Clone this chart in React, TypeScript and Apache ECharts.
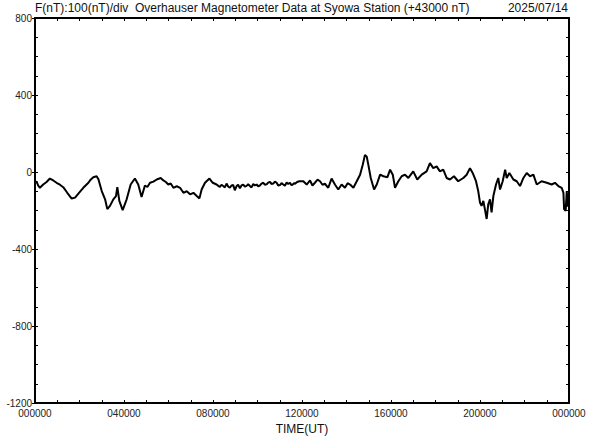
import React, { useEffect, useRef } from "react";
import * as echarts from "echarts";

const hours = [
  0.0, 0.07, 0.14, 0.22, 0.37, 0.52, 0.67, 0.82, 0.97, 1.12, 1.27, 1.45, 1.65, 1.8, 1.95, 2.17, 2.4, 2.5, 2.62, 2.77, 2.85, 3.0, 3.15, 3.25, 3.37, 3.52, 3.64, 3.7, 3.79, 3.94,
  4.12, 4.3, 4.49, 4.64, 4.79, 4.94, 5.05, 5.17, 5.32, 5.47, 5.65, 5.77, 5.88, 5.99, 6.1, 6.22, 6.37, 6.52, 6.67, 6.82, 6.97, 7.12, 7.27, 7.39, 7.49, 7.64, 7.84, 7.99,
  8.16, 8.24, 8.31, 8.38, 8.46, 8.53, 8.61, 8.68, 8.76, 8.83, 8.91, 8.98, 9.06, 9.13, 9.21, 9.28, 9.36, 9.43, 9.51, 9.58, 9.66, 9.73, 9.81, 9.88, 9.96,
  10.03, 10.11, 10.18, 10.26, 10.33, 10.41, 10.48, 10.56, 10.63, 10.71, 10.78, 10.86, 10.93, 11.01, 11.08, 11.16, 11.23, 11.31, 11.38, 11.46, 11.52, 11.58, 11.64, 11.69, 11.78, 11.88,
  12.06, 12.21, 12.36, 12.47, 12.58, 12.7, 12.81, 12.92, 13.03, 13.18, 13.33, 13.48, 13.63, 13.78, 13.93, 14.05, 14.16, 14.31, 14.46, 14.61, 14.73, 14.83, 14.91, 14.98,
  15.09, 15.24, 15.36, 15.51, 15.66, 15.84, 15.96, 16.08, 16.18, 16.33, 16.48, 16.63, 16.78, 17.0, 17.18, 17.38, 17.6, 17.75, 17.9, 18.05, 18.2, 18.35,
  18.5, 18.65, 18.83, 19.02, 19.25, 19.4, 19.55, 19.67, 19.82, 19.92, 20.0, 20.07, 20.15, 20.22, 20.3, 20.37, 20.45, 20.52, 20.6, 20.72, 20.82, 20.9,
  21.02, 21.13, 21.2, 21.32, 21.5, 21.65, 21.8, 21.95, 22.1, 22.25, 22.4, 22.55, 22.77, 23.0, 23.22, 23.37, 23.52, 23.67, 23.75, 23.78, 23.85, 23.9, 23.93, 24.0,
];

const values = [
  -60, -48, -70, -82, -65, -52, -34, -44, -56, -66, -79, -108, -138, -133, -112, -82, -56, -40, -27, -22, -38, -99, -142, -193, -176, -142, -125, -79, -150, -198,
  -142, -65, -34, -65, -130, -70, -78, -56, -50, -39, -31, -44, -52, -65, -60, -82, -74, -82, -108, -100, -116, -108, -125, -137, -91, -56, -34, -56,
  -65, -72, -78, -66, -73, -80, -60, -75, -82, -70, -68, -95, -73, -66, -85, -70, -65, -76, -72, -64, -73, -80, -62, -70, -65,
  -74, -70, -60, -56, -66, -64, -55, -51, -62, -60, -50, -56, -70, -68, -58, -65, -72, -55, -62, -56, -68, -66, -58, -61, -52, -48,
  -48, -65, -44, -70, -56, -40, -48, -66, -61, -82, -34, -65, -91, -65, -82, -58, -65, -82, -48, -14, 38, 89, 80, 38,
  -31, -91, -65, -14, -22, -27, 12, -14, -82, -48, -22, -14, -31, 3, -39, -14, 3, 46, 20, 29, 3, 12,
  -31, -39, -22, -48, -31, -14, 20, -5, -48, -99, -159, -176, -150, -193, -244, -168, -142, -210, -125, -65, -31, -91,
  -48, 12, -31, -5, -39, -48, -73, -31, -5, -22, -14, -65, -48, -56, -65, -56, -73, -82, -108, -193, -202, -99, -180, -110,
];

const yTicks = ["800", "400", "0", "-400", "-800", "-1200"];
const xLabels = ["000000", "040000", "080000", "120000", "160000", "200000", "000000"];
const title = "F(nT):100(nT)/div  Overhauser Magnetometer Data at Syowa Station (+43000 nT)";
const dateText = "2025/07/14";

export default function App() {
  const ref = useRef<HTMLDivElement>(null);
  useEffect(() => {
    if (!ref.current) return;
    const chart = echarts.init(ref.current, null, { renderer: "svg" });
    const font = "'Liberation Sans', Arial, sans-serif";
    const tickStyle = { color: "#000", width: 1 };
    const baseX = {
      type: "value" as const,
      min: 0,
      max: 24,
      interval: 4,
      splitLine: { show: false },
      axisLine: { show: true, onZero: false, lineStyle: { color: "#000", width: 2 } },
      axisTick: { show: true, inside: true, length: 3, lineStyle: tickStyle },
      minorTick: { show: true, splitNumber: 4, length: 3, lineStyle: tickStyle },
    };
    const baseY = {
      type: "value" as const,
      min: -1200,
      max: 800,
      interval: 400,
      splitLine: { show: false },
      axisLine: { show: true, onZero: false, lineStyle: { color: "#000", width: 2 } },
      axisTick: { show: true, inside: true, length: 3, lineStyle: tickStyle },
      minorTick: { show: true, splitNumber: 4, length: 3, lineStyle: tickStyle },
    };
    chart.setOption({
      animation: false,
      backgroundColor: "#fff",
      grid: { left: 35, right: 23, top: 18, bottom: 32 },
      xAxis: [
        {
          ...baseX,
          position: "bottom",
          name: "TIME(UT)",
          nameLocation: "middle",
          nameGap: 20,
          nameTextStyle: { color: "#111", fontSize: 12, fontFamily: font },
          axisLabel: {
            color: "#222",
            fontSize: 10,
            fontFamily: font,
            margin: 5,
            formatter: (v: number) => xLabels[Math.round(v / 4)] ?? "",
          },
        },
        { ...baseX, position: "top", axisLabel: { show: false } },
      ],
      yAxis: [
        {
          ...baseY,
          position: "left",
          axisLabel: {
            color: "#222",
            fontSize: 10,
            fontFamily: font,
            margin: 3,
            formatter: (v: number) => yTicks[Math.round((800 - v) / 400)] ?? "",
          },
        },
        { ...baseY, position: "right", axisLabel: { show: false } },
        {
          type: "value",
          min: -1200,
          max: 800,
          interval: 400,
          position: "left",
          splitLine: { show: false },
          axisLine: { show: false, onZero: false },
          axisTick: { show: true, inside: false, length: 3, lineStyle: tickStyle },
          axisLabel: { show: false },
        },
      ],
      graphic: [
        {
          type: "text",
          left: 35,
          top: 2,
          style: { text: title, fill: "#111", font: `12px ${font}` },
        },
        {
          type: "text",
          right: 24,
          top: 2,
          style: { text: dateText, fill: "#111", font: `12px ${font}` },
        },
      ],
      series: [
        {
          type: "line",
          data: hours.map((h, i) => [h, values[i]]),
          showSymbol: false,
          symbol: "none",
          lineStyle: { color: "#000", width: 2 },
          clip: true,
        },
      ],
    });
    return () => chart.dispose();
  }, []);
  return (
    <div
      ref={ref}
      style={{ position: "fixed", left: 0, top: 0, width: 592, height: 440, background: "#fff" }}
    />
  );
}
